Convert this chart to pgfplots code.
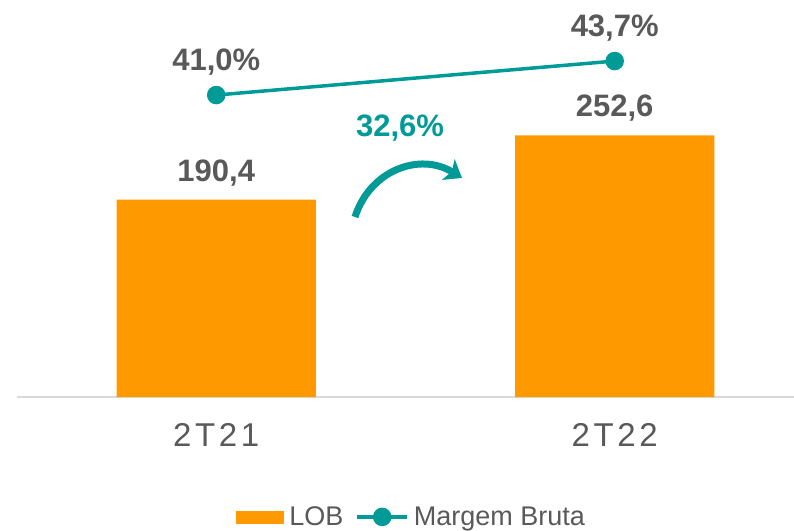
\documentclass[border=0pt]{standalone}
\usepackage{pgfplots}
\pgfplotsset{compat=1.18}
\usepackage{fontspec}
\setmainfont{Liberation Sans}
\usetikzlibrary{arrows.meta}
\definecolor{lob}{HTML}{FF9900}
\definecolor{mb}{HTML}{009A97}
\definecolor{txt}{HTML}{595959}
\definecolor{base}{HTML}{D9D9D9}

\begin{document}
\begin{tikzpicture}
\useasboundingbox (0pt,0pt) rectangle (794pt,530pt);
% bars: LOB
\begin{axis}[
  at={(17pt,133pt)}, anchor=south west,
  width=777pt, height=397pt, scale only axis,
  xmin=-0.5, xmax=1.45, ymin=0, ymax=383.2,
  clip=false,
  axis y line=none, axis x line*=bottom,
  x axis line style={draw=base, line width=1.5pt, -},
  xtick={0,1}, xticklabels={2T21,2T22},
  major tick length=0pt,
  xticklabel style={font=\fontsize{33}{38}\selectfont\addfontfeature{LetterSpace=11}, text=txt, yshift=-23pt},
  /pgf/number format/assume math mode=true,
  legend style={at={(0.508,-0.302)}, anchor=center, draw=none, fill=none,
    font=\fontsize{27}{31}\selectfont, text=txt, legend columns=-1,
    /tikz/every odd column/.append style={column sep=3pt},
    /tikz/every even column/.append style={column sep=10pt}},
]
\addplot[ybar, bar width=0.5, fill=lob, draw=none,
  nodes near coords={\pgfmathprintnumber[fixed,fixed zerofill,precision=1,use comma]{\pgfplotspointmeta}},
  every node near coord/.append style={font=\fontsize{31}{36}\selectfont\bfseries, text=txt, yshift=10pt},
  legend image code/.code={\fill[lob] (0pt,-7pt) rectangle (48pt,6pt);}]
  coordinates {(0,190.4) (1,252.6)};
\addlegendentry{LOB}
\addlegendimage{legend image code/.code={\draw[mb, line width=3.5pt, mark=*, mark size=7.5pt, mark repeat=2, mark phase=2] plot coordinates {(0pt,0pt) (25pt,0pt) (50pt,0pt)};}}
\addlegendentry{Margem Bruta}
\end{axis}
% line: Margem Bruta
\begin{axis}[
  at={(17pt,133pt)}, anchor=south west,
  width=777pt, height=397pt, scale only axis,
  xmin=-0.5, xmax=1.45, ymin=17.02, ymax=48.55,
  clip=false, hide axis,
  /pgf/number format/assume math mode=true,
]
\addplot[mb, line width=3.5pt, mark=*, mark size=7.5pt,
  nodes near coords={\pgfmathprintnumber[fixed,fixed zerofill,precision=1,use comma]{\pgfplotspointmeta}\%},
  every node near coord/.append style={font=\fontsize{31}{36}\selectfont\bfseries, text=txt, yshift=15pt}]
  coordinates {(0,41.0) (1,43.7)};
\end{axis}
% growth annotation
\node[font=\fontsize{31}{36}\selectfont\bfseries, text=mb] at (400pt,402pt) {32,6\%};
\draw[mb, line width=7pt, -{Stealth[length=16pt,width=24pt,inset=4pt]}]
  (355pt,313pt) .. controls (370pt,360pt) and (420pt,378pt) .. (462pt,352pt);
\end{tikzpicture}
\end{document}
